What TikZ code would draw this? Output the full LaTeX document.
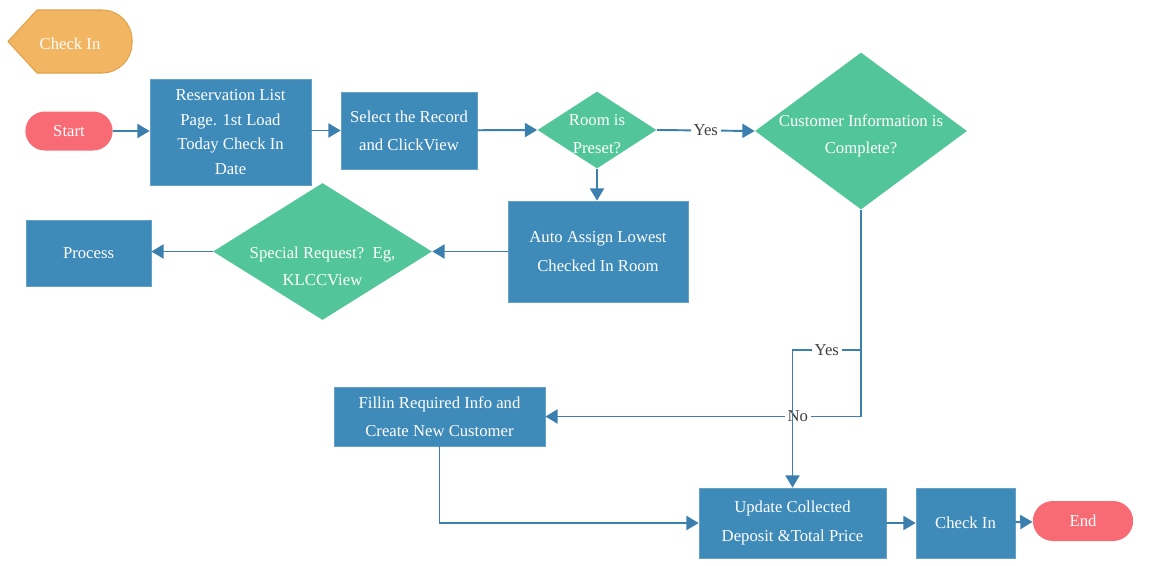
\documentclass[tikz,border=0pt]{standalone}
\usepackage{fontspec}
\setmainfont{Liberation Serif}
\usetikzlibrary{arrows.meta,shapes.geometric,shapes.misc}

\definecolor{boxblue}{HTML}{3E8AB9}
\definecolor{decgreen}{HTML}{52C69A}
\definecolor{lineblue}{HTML}{3B7FAE}
\definecolor{pillred}{HTML}{F86B74}
\definecolor{tagorange}{HTML}{F2B562}
\definecolor{tagedge}{HTML}{E2A24C}

\tikzset{
  block/.style={rectangle, fill=boxblue, draw=boxblue!80!white, text=white, align=center,
    inner sep=2pt, font=\fontsize{9.5}{16}\selectfont},
  decision/.style={diamond, fill=decgreen, inner sep=0pt},
  dtext/.style={text=white, align=center, font=\fontsize{9.5}{15.5}\selectfont},
  terminal/.style={rounded rectangle, fill=pillred, text=white, font=\fontsize{9.5}{14}\selectfont},
  lbl/.style={fill=white, text=black!75, inner sep=1.5pt, font=\fontsize{9.5}{12}\selectfont},
  conn/.style={->, line width=1.1pt, draw=lineblue}
}

\begin{document}
\begin{tikzpicture}[x=0.02cm, y=-0.02cm, >={Triangle[length=7pt,width=8pt]}]
  \useasboundingbox (0,0) rectangle (1165,565);

  % header tag
  \draw[fill=tagorange, draw=tagedge, line width=0.6pt]
    (8,41.5) -- (37,10) [rounded corners=0.6cm] -- (132,10) -- (132,73)
    [sharp corners] -- (37,73) -- cycle;
  \node[text=white, font=\fontsize{9.5}{12}\selectfont] (tag) at (70,44) {Check In};

  % nodes
  \node[terminal, minimum width=1.98cm, minimum height=0.78cm] (start) at (69,131) {Start};
  \node[block, minimum width=3.22cm, minimum height=2.12cm,
        font=\fontsize{9.5}{14}\selectfont] (reslist) at (230.5,132)
    {Reservation List\\Page. 1st Load\\Today Check In\\Date};
  \node[block, minimum width=2.72cm, minimum height=1.54cm] (select) at (409,130.5)
    {Select the Record\\and ClickView};
  \node[decision, minimum width=2.38cm, minimum height=1.54cm] (preset) at (597,130) {};
  \node[dtext] (presettxt) at (597,134) {Room is\\Preset?};
  \node[decision, minimum width=4.24cm, minimum height=3.14cm] (custinfo) at (861,131) {};
  \node[dtext] (custinfotxt) at (861,136) {Customer Information is\\Complete?};
  \node[block, minimum width=3.6cm, minimum height=2.02cm] (autoassign) at (598,251.5)
    {Auto Assign Lowest\\Checked In Room};
  \node[decision, minimum width=4.38cm, minimum height=2.74cm] (special) at (322.5,251.5) {};
  \node[dtext] (specialtxt) at (322.5,266) {Special Request?~~Eg,\\KLCCView};
  \node[block, minimum width=2.5cm, minimum height=1.32cm] (process) at (88.5,253) {Process};
  \node[block, minimum width=4.22cm, minimum height=1.18cm] (fillin) at (439.5,416.5)
    {Fillin Required Info and\\Create New Customer};
  \node[block, minimum width=3.74cm, minimum height=1.4cm] (update) at (792.5,523)
    {Update Collected\\Deposit \&Total Price};
  \node[block, minimum width=1.98cm, minimum height=1.4cm] (checkin) at (965.5,523) {Check In};
  \node[terminal, minimum width=2.24cm, minimum height=0.8cm] (stop) at (1083,521) {End};
  \coordinate (split) at (861,350);

  % connectors
  \draw[conn] (start) -- (start -| reslist.west);
  \draw[conn] (reslist.east |- select) -- (select.west);
  \draw[conn] (select) -- (preset.west);
  \draw[conn] (preset.east) -- node[lbl] {Yes} (custinfo.west);
  \draw[conn] (preset.south) -- (preset.south |- autoassign.north);
  \draw[conn] (autoassign.west) -- (special.east);
  \draw[conn] (special.west) -- (special.west -| process.east);
  \draw[conn] (custinfo.south) |- node[lbl, pos=0.6] {No} (fillin.east);
  \draw[conn] (split) -| node[lbl, pos=0.25] {Yes} (update.north);
  \draw[conn] (fillin.south) |- (update.west);
  \draw[conn] (update) -- (checkin);
  \draw[conn] (checkin) -- (stop);
\end{tikzpicture}
\end{document}
